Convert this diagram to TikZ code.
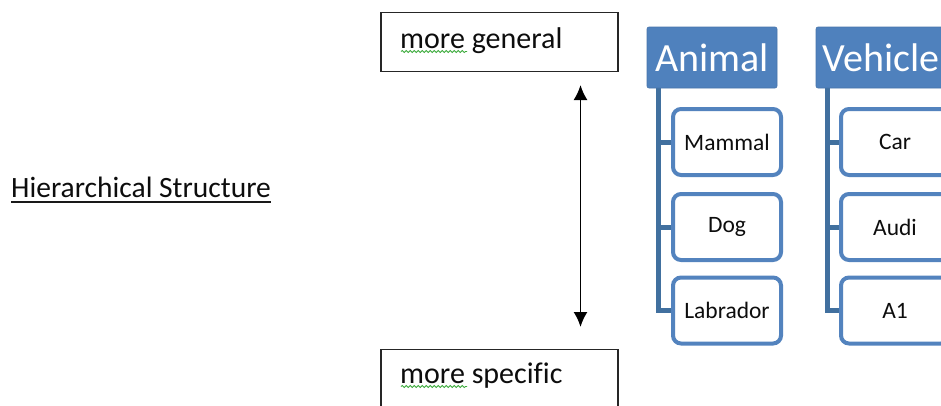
\documentclass[tikz,border=0pt]{standalone}
\usepackage{fontspec}
\setmainfont{Carlito}[Ligatures=NoCommon]
\usetikzlibrary{arrows.meta,decorations.pathmorphing}
\definecolor{hdrblue}{HTML}{4F81BD}
\definecolor{spineblue}{HTML}{41709F}
\definecolor{boxblue}{HTML}{5383BE}
\definecolor{spellgreen}{HTML}{3BAA3B}
\tikzset{
  plainbox/.style={draw=black!85, line width=1.6pt, minimum width=237pt, minimum height=59pt, anchor=north west, inner sep=0pt},
  boxtext/.style={anchor=base west, inner sep=0pt, font=\fontsize{30}{32}\selectfont, text=black!95},
  hdrbox/.style={fill=hdrblue, draw=hdrblue!90!black, line width=0.6pt, rounded corners=2pt, minimum width=130pt, minimum height=61pt, inner sep=0pt, text=white, font=\fontsize{40}{42}\selectfont},
  childbox/.style={draw=boxblue, fill=white, line width=4pt, rounded corners=8pt, minimum width=108pt, minimum height=66pt, inner sep=0pt, font=\fontsize{23.5}{25}\selectfont, text=black!95},
  spine/.style={draw=spineblue, line width=5pt},
  spell/.style={draw=spellgreen, line width=0.8pt, decorate, decoration={snake, amplitude=1.1pt, segment length=4pt}},
}
\begin{document}
\begin{tikzpicture}[x=1pt,y=-1pt]
\useasboundingbox (0,0) rectangle (941,405);
\clip (0,0) rectangle (941,405);

% left title
\node[anchor=base west, inner sep=0pt, font=\fontsize{29.5}{31}\selectfont, text=black!95] (hs) at (11,197) {Hierarchical Structure};
\draw[line width=1.5pt, black!90] ([yshift=-5pt]hs.base west) -- ([yshift=-5pt]hs.base east);

% general / specific boxes
\node[plainbox] (gen) at (380,11.5) {};
\node[boxtext] (gent) at (400,48) {more general};
\node[plainbox] (spec) at (380,348.5) {};
\node[boxtext] (spect) at (400,383) {more specific};
\coordinate (gw1) at (401,51.5);
\coordinate (gw2) at (467,51.5);
\coordinate (sw1) at (401,386.5);
\coordinate (sw2) at (467,386.5);
\draw[spell] (gw1) -- (gw2);
\draw[spell] (sw1) -- (sw2);

% double arrow
\coordinate (atop) at (580.5,85);
\coordinate (abot) at (580.5,327);
\draw[{Latex[length=15pt,width=14pt]}-{Latex[length=15pt,width=14pt]}, line width=1.8pt] (atop) -- (abot);

% Animal hierarchy
\coordinate (aspine) at (658,87);
\draw[spine] (aspine) -- (658,310.5) -- (680,310.5);
\draw[spine] (658,142) -- (680,142);
\draw[spine] (658,227) -- (680,227);
\node[hdrbox] (animal) at (712,57.5) {Animal};
\node[childbox] (mammal) at (727,142) {Mammal};
\node[childbox] (dog) at (727,227) {Dog};
\node[childbox] (lab) at (727,310.5) {Labrador};

% Vehicle hierarchy
\coordinate (vspine) at (827,87);
\draw[spine] (vspine) -- (827,310.5) -- (850,310.5);
\draw[spine] (827,142) -- (850,142);
\draw[spine] (827,227) -- (850,227);
\node[hdrbox] (vehicle) at (881,57.5) {Vehicle};
\node[childbox] (car) at (895,142) {Car};
\node[childbox] (audi) at (895,227) {Audi};
\node[childbox] (aone) at (895,310.5) {A1};
\end{tikzpicture}
\end{document}
